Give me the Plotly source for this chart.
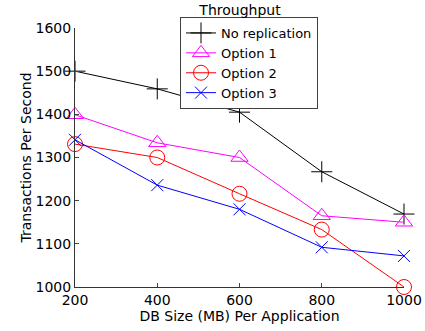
import plotly.graph_objects as go

db_size = [200, 400, 600, 800, 1000]
no_replication = [1500, 1459, 1405, 1267, 1169]
option1 = [1399, 1334, 1300, 1165, 1150]
option2 = [1331, 1300, 1216, 1133, 1000]
option3 = [1341, 1236, 1180, 1092, 1072]

x_ticks = [200, 400, 600, 800, 1000]
y_ticks = [1000, 1100, 1200, 1300, 1400, 1500, 1600]

series = [
    ("No replication", no_replication, "#000000", "cross-thin-open", 15),
    ("Option 1", option1, "#ff00ff", "triangle-up-open", 15),
    ("Option 2", option2, "#ff0000", "circle-open", 15),
    ("Option 3", option3, "#0000ff", "x-thin-open", 12),
]

fig = go.Figure()
for name, vals, color, sym, sz in series:
    fig.add_trace(go.Scatter(
        x=db_size, y=vals, name=name, mode="lines+markers",
        line=dict(color=color, width=1),
        marker=dict(symbol=sym, size=sz, color=color, line=dict(color=color, width=1)),
        cliponaxis=False,
    ))

L, R, T, B = 75, 21, 28, 44
W, H = 425, 331
pw, ph = W - L - R, H - T - B

font = "DejaVu Sans, Verdana, sans-serif"
fig.update_layout(
    width=W, height=H,
    margin=dict(l=L, r=R, t=T, b=B, autoexpand=False),
    paper_bgcolor="white", plot_bgcolor="white",
    font=dict(family=font, size=14, color="black"),
    title=dict(text="Throughput", x=(240 / W), xanchor="center", y=1 - 10 / H, yanchor="middle",
               font=dict(size=14, color="black")),
    showlegend=True,
    legend=dict(x=(180 - L) / pw, y=(H - B - 17) / ph, xanchor="left", yanchor="top",
                bgcolor="white", bordercolor="#404040", borderwidth=1,
                font=dict(size=13), tracegroupgap=0, itemwidth=30),
    xaxis=dict(range=[200, 1000], tickvals=x_ticks, ticks="inside", ticklen=4,
               showgrid=False, zeroline=False, showline=True, linecolor="#333333", linewidth=1,
               tickfont=dict(size=14), automargin=False,
               title=dict(text="DB Size (MB) Per Application", standoff=2, font=dict(size=14))),
    yaxis=dict(range=[1000, 1600], tickvals=y_ticks, ticks="inside", ticklen=4,
               showgrid=False, zeroline=False, showline=True, linecolor="#333333", linewidth=1,
               tickfont=dict(size=14), automargin=False,
               title=dict(text="Transactions Per Second", standoff=0, font=dict(size=14))),
)

fig.write_html("out.html")
